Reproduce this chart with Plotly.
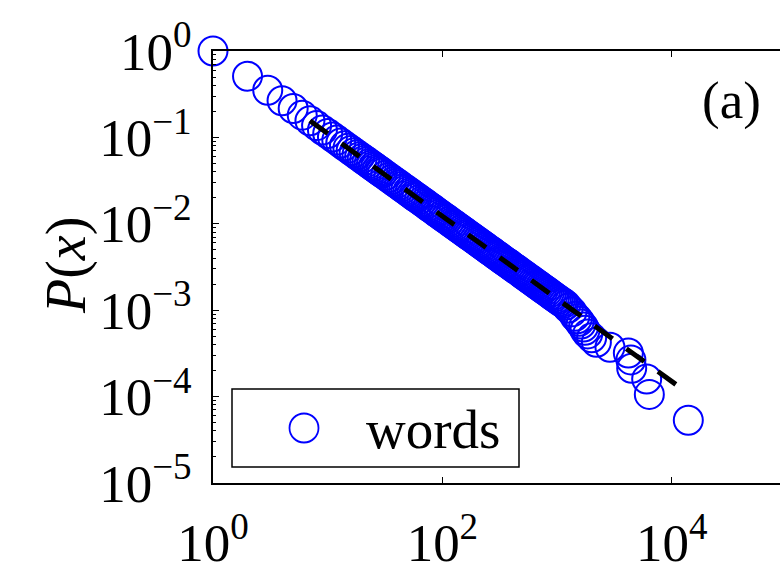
import plotly.graph_objects as go

# Complementary cumulative distribution of word frequencies
word_x = [
    1, 2, 3, 4, 5, 6, 7, 8, 9, 10, 11, 12, 13, 14, 15, 16, 17, 18, 19, 20,
    21, 22, 23, 24, 25, 26, 27, 28, 29, 30,
    32, 34, 36, 38, 40, 42, 44, 46, 48, 50, 52, 54, 56, 58, 60,
    63, 66, 69, 72, 75, 78, 81, 84, 87, 90, 94, 98,
    102, 106, 110, 115, 120, 125, 130, 135, 140, 146, 152, 158, 164, 170,
    177, 184, 191, 198,
    206, 214, 222, 231, 240, 249, 258, 268, 278, 288, 299, 310, 322, 334,
    346, 359, 372, 386, 400,
    415, 430, 446, 462, 479, 497, 515, 534, 554, 574, 595, 617, 640, 664,
    688, 713, 739, 766, 794, 823, 853, 884, 916, 950, 985, 1020, 1060, 1100,
    1140, 1190,
    1250, 1350, 1430, 1500, 1560, 1620, 1700, 1750, 1850, 2000, 2200, 2890,
    4180, 4400, 4470, 6040, 6370, 13930,
]
word_p = [
    1.0, 0.51, 0.352, 0.266, 0.216, 0.181, 0.156, 0.137, 0.122, 0.111,
    0.101, 0.0930, 0.0861, 0.0802, 0.0751, 0.0706, 0.0666, 0.0631, 0.0599, 0.0571,
    0.0545, 0.0521, 0.0499, 0.0479, 0.0461, 0.0444, 0.0428, 0.0413, 0.0400, 0.0387,
    0.0364, 0.0343, 0.0325, 0.0309, 0.0294, 0.0281, 0.0268, 0.0257, 0.0247, 0.0238,
    0.0229, 0.0221, 0.0213, 0.0206, 0.0200,
    0.0191, 0.0182, 0.0175, 0.0168, 0.0161, 0.0155, 0.0150, 0.0145, 0.0140, 0.0135,
    0.0130, 0.0125,
    0.0120, 0.0116, 0.0112, 0.0107, 0.0103, 0.00989, 0.00953, 0.00919, 0.00888,
    0.00853, 0.00821, 0.00791, 0.00763, 0.00738, 0.00710, 0.00684, 0.00660, 0.00637,
    0.00614, 0.00592, 0.00571, 0.00550, 0.00530, 0.00512, 0.00495, 0.00477, 0.00461,
    0.00445, 0.00430, 0.00415, 0.00400, 0.00387, 0.00374, 0.00361, 0.00349, 0.00337,
    0.00325,
    0.00314, 0.00304, 0.00293, 0.00284, 0.00274, 0.00264, 0.00256, 0.00247, 0.00238,
    0.00230, 0.00223, 0.00215, 0.00208, 0.00200, 0.00194, 0.00187, 0.00181, 0.00175,
    0.00169, 0.00163, 0.00158, 0.00152, 0.00147, 0.00142, 0.00137, 0.00133, 0.00128,
    0.00124, 0.00120, 0.00115,
    1.06e-3, 9.57e-4, 8.51e-4, 7.98e-4, 7.45e-4, 6.91e-4, 6.38e-4, 5.85e-4, 5.32e-4,
    4.79e-4, 4.26e-4, 3.72e-4, 3.19e-4, 2.66e-4, 2.13e-4, 1.60e-4, 1.06e-4, 5.32e-5,
]

# Power-law fit, drawn from x_min to the end of the tail
fit_x = [7, 12600]
fit_p = [0.156, 1.20e-4]

x_ticks = [1, 100, 10000]
x_tick_text = ["10<sup>0</sup>", "10<sup>2</sup>", "10<sup>4</sup>"]
y_ticks = [1e-5, 1e-4, 1e-3, 1e-2, 1e-1, 1]
y_tick_text = ["10<sup>−5</sup>", "10<sup>−4</sup>", "10<sup>−3</sup>",
               "10<sup>−2</sup>", "10<sup>−1</sup>", "10<sup>0</sup>"]
y_minor = [m * 10.0 ** e for e in range(-5, 0) for m in range(2, 10)]

SERIF = "Liberation Serif, Times New Roman, serif"
BLUE = "#0000ff"

fig = go.Figure()
fig.add_trace(go.Scatter(
    x=word_x, y=word_p, mode="markers", name="words",
    marker=dict(symbol="circle-open", size=29, color=BLUE,
                line=dict(width=2, color=BLUE)),
    cliponaxis=False, showlegend=False,
))
fig.add_trace(go.Scatter(
    x=fit_x, y=fit_p, mode="lines",
    line=dict(color="black", width=5, dash="22px,17px"),
    showlegend=False,
))

W, H = 780, 578
L, R, T, B = 213, 0, 51, 95
pw, ph = W - L - R, H - T - B


def px_x(v):
    return (v - L) / pw


def px_y(v):
    return (H - B - v) / ph


# Legend frame, symbol and label
fig.add_shape(type="rect", xref="paper", yref="paper",
              x0=px_x(232), x1=px_x(519), y0=px_y(467), y1=px_y(389),
              line=dict(color="black", width=1.5), fillcolor="white", layer="above")
fig.add_shape(type="circle", xref="paper", yref="paper",
              x0=px_x(304 - 14.5), x1=px_x(304 + 14.5),
              y0=px_y(428 + 14.5), y1=px_y(428 - 14.5),
              line=dict(color=BLUE, width=1.8), layer="above")
fig.add_annotation(text="words", xref="paper", yref="paper",
                   x=px_x(364), y=px_y(429), xanchor="left", yanchor="middle",
                   showarrow=False, font=dict(family=SERIF, size=55, color="black"))

# Panel label and y-axis title
fig.add_annotation(text="(a)", xref="paper", yref="paper",
                   x=px_x(731), y=px_y(100), xanchor="center", yanchor="middle",
                   showarrow=False, font=dict(family=SERIF, size=53, color="black"))
fig.add_annotation(text="<i>P</i>(<i>x</i>)", xref="paper", yref="paper",
                   x=px_x(66), y=px_y(266), xanchor="center", yanchor="middle",
                   textangle=-90, showarrow=False,
                   font=dict(family=SERIF, size=56, color="black"))

fig.update_xaxes(
    type="log", range=[0, (W - L) / 114.7],
    tickmode="array", tickvals=x_ticks, ticktext=x_tick_text,
    ticks="inside", ticklen=6, tickwidth=1.3, tickcolor="black",
    showline=True, linecolor="black", linewidth=1.5, mirror="ticks",
    showgrid=False, zeroline=False,
    tickfont=dict(family=SERIF, size=53, color="black"),
    ticklabelstandoff=13,
)
fig.update_yaxes(
    type="log", range=[-5, 0],
    tickmode="array", tickvals=y_ticks, ticktext=y_tick_text,
    ticks="inside", ticklen=6, tickwidth=1.3, tickcolor="black",
    minor=dict(tickmode="array", tickvals=y_minor, ticks="inside",
               ticklen=3, tickwidth=1, tickcolor="black", showgrid=False),
    showline=True, linecolor="black", linewidth=1.5, mirror=False,
    showgrid=False, zeroline=False,
    tickfont=dict(family=SERIF, size=53, color="black"),
    ticklabelstandoff=9,
)
fig.update_layout(
    width=W, height=H,
    margin=dict(l=L, r=R, t=T, b=B, pad=0),
    paper_bgcolor="white", plot_bgcolor="white",
    showlegend=False,
)

fig.write_html("out.html")
